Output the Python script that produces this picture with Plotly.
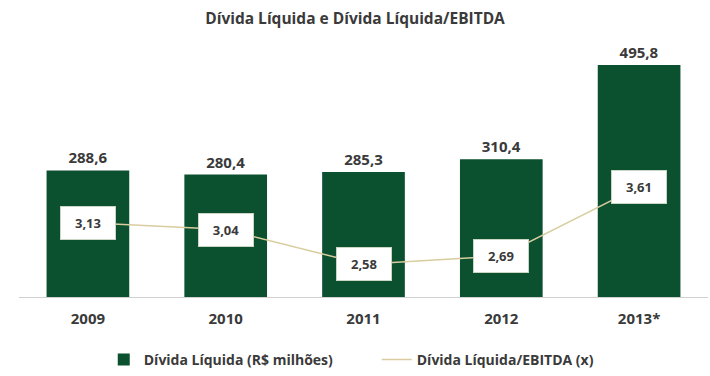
import plotly.graph_objects as go

# Data
years = ["2009", "2010", "2011", "2012", "2013*"]
divida_liquida = [288.6, 280.4, 285.3, 310.4, 495.8]
divida_ebitda = [3.13, 3.04, 2.58, 2.69, 3.61]

GREEN = "#0b5130"
LINE = "#d9cc9f"
TEXT = "#3a3a3a"
FONT = "Open Sans"

fig = go.Figure()

fig.add_trace(go.Bar(
    x=years, y=divida_liquida,
    name="<b>Dívida Líquida (R$ milhões)</b>",
    marker=dict(color=GREEN, line=dict(width=0)),
    width=0.6,
    texttemplate="<b>%{y:.1f}</b>",
    textposition="outside", cliponaxis=False,
    textfont=dict(family=FONT, size=15, color=TEXT),
))

fig.add_trace(go.Scatter(
    x=years, y=divida_ebitda, yaxis="y2",
    name="<b>Dívida Líquida/EBITDA (x)</b>",
    mode="lines", line=dict(color=LINE, width=1.5),
))

# Ratio labels in white boxes on the line
for i, v in enumerate(divida_ebitda):
    fig.add_annotation(
        x=i, y=v, xref="x", yref="y2",
        text=f"<b>{v:.2f}</b>".replace(".", ","),
        showarrow=False, bgcolor="white",
        bordercolor="#c9d6c4", borderwidth=1, borderpad=7,
        width=40,
        font=dict(family=FONT, size=13, color=TEXT),
    )

fig.update_layout(
    width=710, height=376,
    margin=dict(l=19, r=2, t=45, b=78),
    paper_bgcolor="white", plot_bgcolor="white",
    separators=",.",
    title=dict(text="<b>Dívida Líquida e Dívida Líquida/EBITDA</b>",
               x=0.5, xanchor="center", y=0.95, yanchor="middle",
               font=dict(family=FONT, size=15.5, color=TEXT)),
    xaxis=dict(type="category", showgrid=False, showline=True,
               linecolor="#d0d0d0", linewidth=1,
               ticks="", tickfont=dict(family=FONT, size=15, color=TEXT),
               ticklabelstandoff=8, range=[-0.5, 4.5],
               tickprefix="<b>", ticksuffix="</b>"),
    yaxis=dict(range=[40, 535], visible=False, showgrid=False),
    yaxis2=dict(range=[2.146, 5.488], overlaying="y", visible=False, showgrid=False),
    showlegend=True,
    legend=dict(orientation="h", x=0.123, xanchor="left", y=-0.308, yanchor="bottom",
                font=dict(family=FONT, size=14, color=TEXT),
                entrywidth=228, itemwidth=30, tracegroupgap=0),
)

fig.write_html("out.html")
